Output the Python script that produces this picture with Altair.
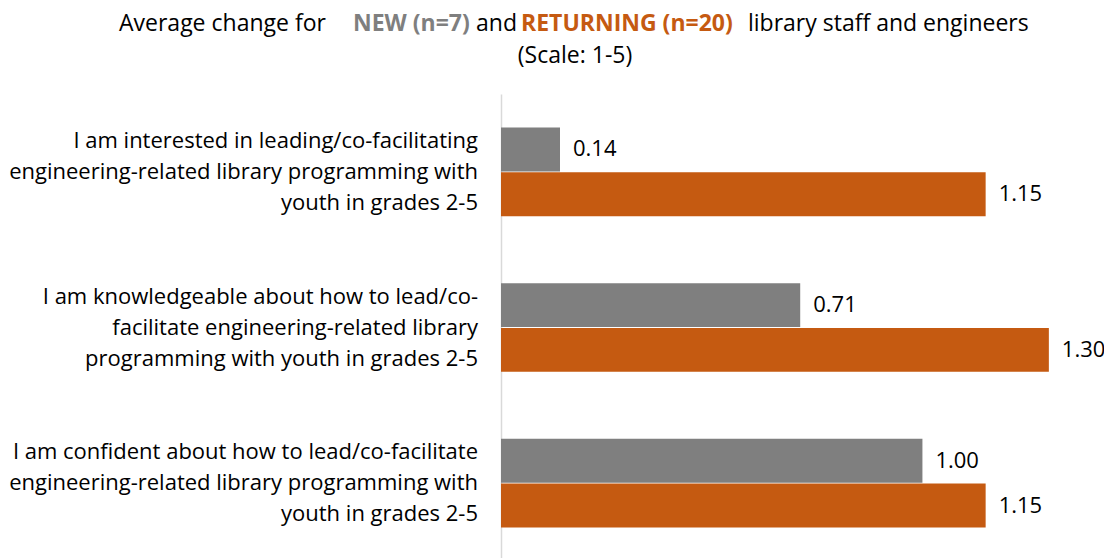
import altair as alt
import pandas as pd

categories = [
    "I am interested in leading/co-facilitating\nengineering-related library programming with\nyouth in grades 2-5",
    "I am knowledgeable about how to lead/co-\nfacilitate engineering-related library\nprogramming with youth in grades 2-5",
    "I am confident about how to lead/co-facilitate\nengineering-related library programming with\nyouth in grades 2-5",
]
series = ["NEW (n=7)", "RETURNING (n=20)"]
new_vals = [0.14, 0.71, 1.00]
ret_vals = [1.15, 1.30, 1.15]
colors = ["#7F7F7F", "#C55A11"]

rows = []
for i, c in enumerate(categories):
    rows.append({"cat": c, "series": series[0], "value": new_vals[i]})
    rows.append({"cat": c, "series": series[1], "value": ret_vals[i]})
df = pd.DataFrame(rows)

FONT = "Open Sans"
FS = 22
TFS = 23

y_enc = alt.Y("cat:N", sort=categories,
              scale=alt.Scale(paddingInner=0.43, paddingOuter=0.215),
              axis=alt.Axis(labels=False, ticks=False, title=None,
                            domain=True, domainColor="#D9D9D9", domainWidth=1.5,
                            grid=False))
yoff = alt.YOffset("series:N", sort=series, scale=alt.Scale(paddingInner=0.02))
x_enc = alt.X("value:Q", scale=alt.Scale(domain=[0, 1.4]), axis=None)

base = alt.Chart(df)

bars = base.mark_bar().encode(
    x=x_enc, y=y_enc, yOffset=yoff,
    color=alt.Color("series:N", sort=series,
                    scale=alt.Scale(domain=series, range=colors), legend=None),
)

vals = base.mark_text(align="left", baseline="middle", dx=13, font=FONT,
                      fontSize=FS, color="#000000").encode(
    x=x_enc, y=y_enc, yOffset=yoff,
    text=alt.Text("value:Q", format=".2f"),
)

cat_df = pd.DataFrame({"cat": categories})
labels = alt.Chart(cat_df).mark_text(align="right", baseline="middle", lineBreak="\n",
                                     lineHeight=31, dy=-31, font=FONT, fontSize=FS,
                                     color="#000000").encode(
    x=alt.value(-23),
    y=alt.Y("cat:N", sort=categories),
    text="cat:N",
)

title_parts = [
    ("Average change for", -382, -70, "#000000", "normal"),
    ("NEW (n=7)", -148, -70, "#7F7F7F", "bold"),
    ("and", -25, -70, "#000000", "normal"),
    ("RETURNING (n=20)", 20, -70, "#C55A11", "bold"),
    ("library staff and engineers", 247, -70, "#000000", "normal"),
]
title_layers = []
for txt, xx, yy, col, wt in title_parts:
    title_layers.append(
        alt.Chart(pd.DataFrame({"t": [txt]})).mark_text(
            align="left", baseline="middle", font=FONT, fontSize=TFS,
            color=col, fontWeight=wt).encode(
            x=alt.value(xx), y=alt.value(yy), text="t:N")
    )
title_layers.append(
    alt.Chart(pd.DataFrame({"t": ["(Scale: 1-5)"]})).mark_text(
        align="center", baseline="middle", font=FONT, fontSize=TFS,
        color="#000000").encode(x=alt.value(74), y=alt.value(-38), text="t:N")
)

chart = alt.layer(bars, vals, labels, *title_layers).resolve_scale(
    y="shared"
).properties(
    width=590, height=467,
    autosize=alt.AutoSizeParams(type="none"),
    padding={"left": 493, "top": 86, "right": 13, "bottom": 0},
).configure_view(stroke=None)

chart.save("out.html", embed_options={"renderer": "svg", "actions": False})
